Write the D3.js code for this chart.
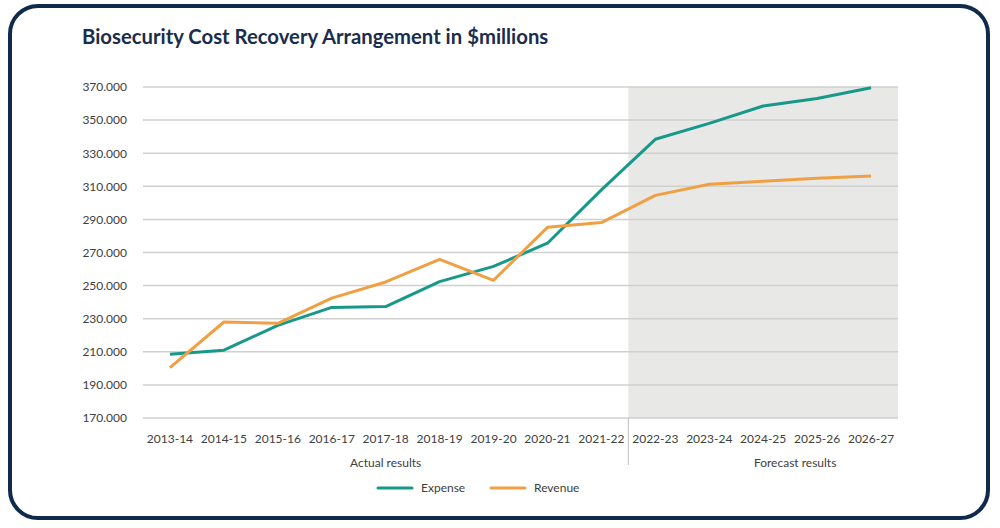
<!DOCTYPE html>
<html>
<head>
<meta charset="utf-8">
<script src="https://cdn.jsdelivr.net/npm/d3@7"></script>
<style>
  html, body { margin: 0; padding: 0; background: #ffffff; }
  svg { display: block; font-family: Lato, "Open Sans", sans-serif; }
</style>
</head>
<body>
<svg id="chart" width="1000" height="528"></svg>
<script>
const categories = ["2013-14","2014-15","2015-16","2016-17","2017-18","2018-19","2019-20","2020-21","2021-22","2022-23","2023-24","2024-25","2025-26","2026-27"];
const expense = [208.5, 211, 226, 236.8, 237.3, 252.4, 261.6, 275.6, 307.8, 338.4, 348, 358.5, 363, 369.5];
const revenue = [200.5, 228, 227.2, 242.4, 252.2, 265.9, 253.2, 285.2, 288.1, 304.5, 311.2, 313, 314.8, 316.2];
const yTicks = [170, 190, 210, 230, 250, 270, 290, 310, 330, 350, 370];
const actualCats = categories.slice(0, 9);
const forecastCats = categories.slice(9);
const seriesNames = ["Expense", "Revenue"];
const seriesColors = ["#17998a", "#f0a042"];

const svg = d3.select("#chart");

// outer rounded frame
svg.append("rect")
  .attr("x", 10).attr("y", 6).attr("width", 978).attr("height", 512)
  .attr("rx", 28).attr("ry", 28)
  .attr("fill", "#ffffff").attr("stroke", "#0f2a4a").attr("stroke-width", 4);

svg.append("text")
  .attr("x", 82).attr("y", 44)
  .attr("font-size", 20.3).attr("font-weight", 700).attr("fill", "#1a2d4c")
  .text("Biosecurity Cost Recovery Arrangement in $millions");

const x = d3.scaleBand().domain(categories).range([143, 898]).padding(0);
const y = d3.scaleLinear().domain([170, 370]).range([418, 87]);

// forecast shading
const fx0 = x(forecastCats[0]);
svg.append("rect")
  .attr("x", fx0).attr("y", y(370))
  .attr("width", x.range()[1] - fx0).attr("height", y(170) - y(370))
  .attr("fill", "#e8e8e7");

// gridlines
svg.append("g").selectAll("line").data(yTicks).join("line")
  .attr("x1", x.range()[0]).attr("x2", x.range()[1])
  .attr("y1", d => y(d)).attr("y2", d => y(d))
  .attr("stroke", "#d0d0d0").attr("stroke-width", 1.5);

// y axis labels
const yAxis = d3.axisLeft(y).tickValues(yTicks).tickFormat(d => d3.format(".3f")(d)).tickSize(0).tickPadding(0);
const gy = svg.append("g").attr("transform", "translate(127,0)").call(yAxis);
gy.select(".domain").remove();
gy.selectAll("text").attr("font-size", 12).attr("fill", "#404040").attr("font-family", "Lato, sans-serif");

// x axis labels
const xAxis = d3.axisBottom(x).tickSize(0).tickPadding(0);
const gx = svg.append("g").attr("transform", "translate(0,434)").call(xAxis);
gx.select(".domain").remove();
gx.selectAll("text").attr("font-size", 12).attr("fill", "#404040").attr("font-family", "Lato, sans-serif");

// separator
svg.append("line")
  .attr("x1", fx0).attr("x2", fx0).attr("y1", y(170)).attr("y2", 465)
  .attr("stroke", "#bfbfbf").attr("stroke-width", 1);

// group labels
svg.append("text")
  .attr("x", (x(actualCats[0]) + x(actualCats[actualCats.length - 1]) + x.bandwidth()) / 2)
  .attr("y", 467).attr("text-anchor", "middle")
  .attr("font-size", 12).attr("fill", "#404040").text("Actual results");
svg.append("text")
  .attr("x", x(forecastCats[3]) + 5)
  .attr("y", 467).attr("text-anchor", "middle")
  .attr("font-size", 12).attr("fill", "#404040").text("Forecast results");

// lines
const line = d3.line().x((d, i) => x(categories[i]) + x.bandwidth() / 2).y(d => y(d));
[expense, revenue].forEach((s, k) => {
  svg.append("path").datum(s)
    .attr("d", line).attr("fill", "none")
    .attr("stroke", seriesColors[k]).attr("stroke-width", 3)
    .attr("stroke-linejoin", "round");
});

// legend
const legendX = [378, 491];
seriesNames.forEach((n, k) => {
  const g = svg.append("g").attr("transform", `translate(${legendX[k]},488)`);
  g.append("line").attr("x1", 0).attr("x2", 34).attr("y1", 0).attr("y2", 0)
    .attr("stroke", seriesColors[k]).attr("stroke-width", 3).attr("stroke-linecap", "round");
  g.append("text").attr("x", 43).attr("y", 4).attr("font-size", 12).attr("fill", "#404040").text(n);
});
</script>
</body>
</html>
